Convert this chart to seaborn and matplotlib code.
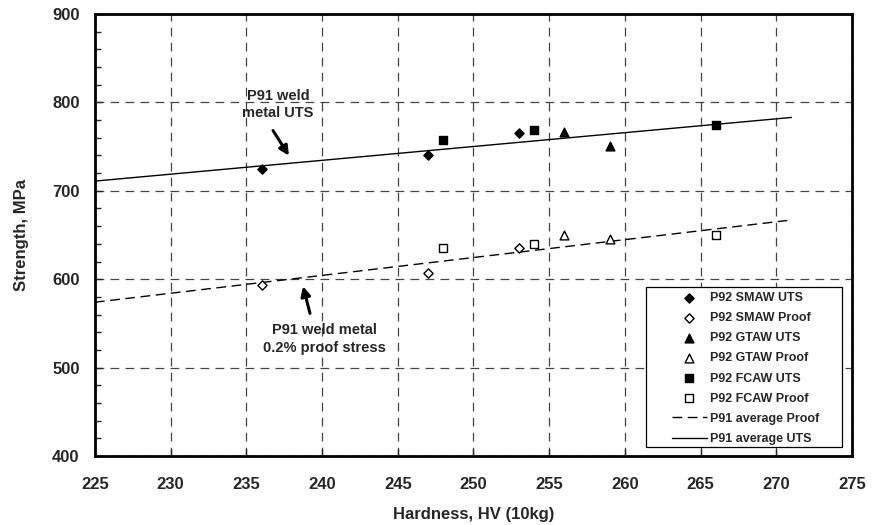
import matplotlib
matplotlib.use("Agg")
import matplotlib.pyplot as plt
import seaborn as sns
from matplotlib.ticker import MultipleLocator
from matplotlib.patches import Rectangle

sns.set_theme(style="white")
plt.rcParams['font.family'] = ['Liberation Sans', 'DejaVu Sans']
plt.rcParams['font.weight'] = 'bold'

# Data
smaw_hv = [236, 247, 253]
smaw_uts = [725, 740, 765]
smaw_proof = [594, 607, 635]
gtaw_hv = [256, 259]
gtaw_uts = [766, 751]
gtaw_proof = [650, 645]
fcaw_hv = [248, 254, 266]
fcaw_uts = [757, 769, 775]
fcaw_proof = [635, 640, 650]
p91_hv = [225, 271]
p91_proof = [574, 667]
p91_uts = [711, 783]

fig = plt.figure(figsize=(8.73, 5.25), dpi=100)
ax = fig.add_axes([0.1088, 0.1314, 0.8671, 0.8419])

series = [
    ("P92 SMAW UTS", smaw_hv, smaw_uts, "D", "black", 22),
    ("P92 SMAW Proof", smaw_hv, smaw_proof, "D", "white", 22),
    ("P92 GTAW UTS", gtaw_hv, gtaw_uts, "^", "black", 40),
    ("P92 GTAW Proof", gtaw_hv, gtaw_proof, "^", "white", 40),
    ("P92 FCAW UTS", fcaw_hv, fcaw_uts, "s", "black", 38),
    ("P92 FCAW Proof", fcaw_hv, fcaw_proof, "s", "white", 38),
]
for label, xs, ys, m, fc, s in series:
    sns.scatterplot(x=xs, y=ys, marker=m, s=s, color=fc, edgecolor="black",
                    linewidth=1.0, ax=ax, label=label, zorder=4)

sns.lineplot(x=p91_hv, y=p91_proof, ax=ax, color="black", linestyle=(0, (7, 4)),
             linewidth=1.0, label="P91 average Proof", zorder=3)
sns.lineplot(x=p91_hv, y=p91_uts, ax=ax, color="black", linestyle="-",
             linewidth=1.0, label="P91 average UTS", zorder=3)

ax.set_xlim(225, 275)
ax.set_ylim(400, 900)
ax.xaxis.set_major_locator(MultipleLocator(5))
ax.yaxis.set_major_locator(MultipleLocator(100))
ax.yaxis.set_minor_locator(MultipleLocator(20))
ax.grid(True, which="major", color="#444444", linestyle=(0, (7, 5)), linewidth=0.9)
ax.set_axisbelow(True)
ax.tick_params(axis="x", which="major", direction="in", length=5, width=1,
               labelsize=12, pad=15, bottom=True)
ax.tick_params(axis="y", which="major", direction="in", length=5, width=1,
               labelsize=12, pad=11, left=True)
ax.tick_params(axis="y", which="minor", direction="in", length=4, width=1, left=True)
for lbl in ax.get_xticklabels() + ax.get_yticklabels():
    lbl.set_fontweight("bold")
for sp in ax.spines.values():
    sp.set_color("black")
    sp.set_linewidth(2.0)

ax.set_xlabel("Hardness, HV (10kg)", fontsize=12, fontweight="bold", labelpad=11)
ax.set_ylabel("Strength, MPa", fontsize=12, fontweight="bold", labelpad=17)

arrow_kw = dict(arrowstyle="-|>", color="black", lw=2.2, mutation_scale=14,
                shrinkA=0, shrinkB=0)
ax.annotate("", xy=(237.81, 739.8), xytext=(236.76, 768.2), arrowprops=arrow_kw)
ax.text(237.09, 797.7, "P91 weld\nmetal UTS", ha="center", va="center",
        fontsize=10.5, fontweight="bold", linespacing=1.3)
ax.annotate("", xy=(238.74, 592.0), xytext=(239.2, 561.4), arrowprops=arrow_kw)
ax.text(240.16, 532.4, "P91 weld metal\n0.2% proof stress", ha="center", va="center",
        fontsize=10.5, fontweight="bold", linespacing=1.3)

# legend frame
ax.add_patch(Rectangle((0.728, 0.020), 0.259, 0.362, transform=ax.transAxes,
                       facecolor="white", edgecolor="black", linewidth=0.9, zorder=6))
leg = ax.legend(loc="upper left", bbox_to_anchor=(0.762, 0.371), fontsize=9,
                frameon=False, handlelength=2.8, borderpad=0, labelspacing=0.65,
                handletextpad=0.25, borderaxespad=0)
leg.set_zorder(7)
for t in leg.get_texts():
    t.set_fontweight("bold")

fig.savefig("out.png", dpi=100)
